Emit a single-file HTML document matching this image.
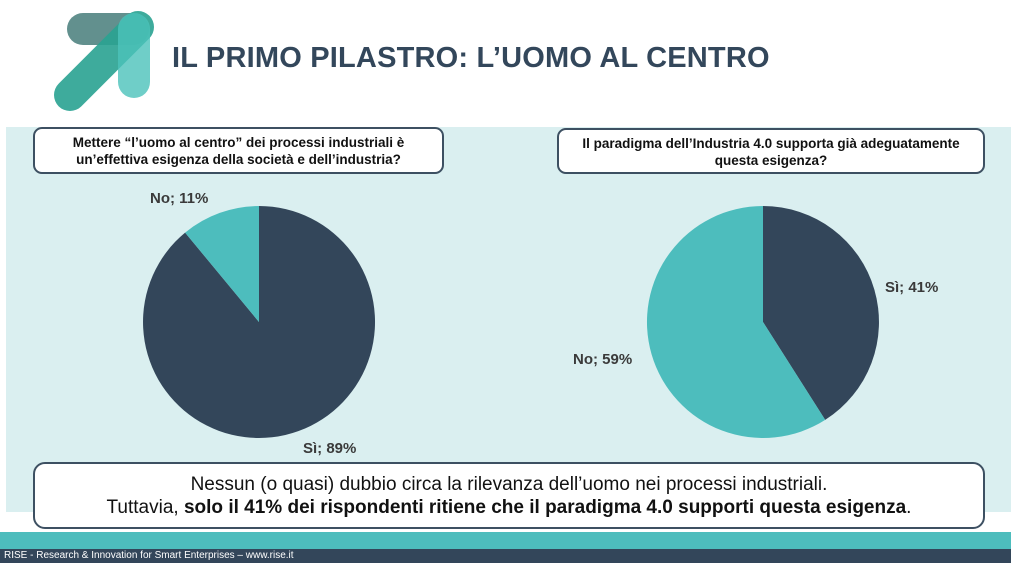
<!DOCTYPE html>
<html><head><meta charset="utf-8"><style>
body{margin:0;width:1024px;height:565px;background:#fff;position:relative;overflow:hidden;font-family:"Liberation Sans",sans-serif}
.a{position:absolute}
.box{position:absolute;background:#fff;border:2px solid #3d5062;border-radius:9px;box-sizing:border-box;text-align:center;font-weight:bold;color:#111;font-size:13.5px;line-height:17px}
</style></head><body>
<svg class="a" style="left:0;top:0" width="160" height="115">
<g stroke-linecap="round">
<line x1="83" y1="29" x2="133" y2="29" stroke="#3b7572" stroke-width="32" opacity=".8"/>
<line x1="70" y1="95" x2="138" y2="27" stroke="#2aa392" stroke-width="32" opacity=".9"/>
<line x1="134" y1="29" x2="134" y2="82" stroke="#4cc3bb" stroke-width="32" opacity=".8"/>
</g></svg>
<div class="a" style="left:172px;top:42px;font-size:29px;font-weight:bold;color:#33475b;letter-spacing:0.2px">IL PRIMO PILASTRO: L’UOMO AL CENTRO</div>
<div class="a" style="left:6px;top:127px;width:1005px;height:385px;background:#daeff0"></div>
<div class="box" style="left:33px;top:127px;width:411px;height:47px;padding-top:5px">Mettere “l’uomo al centro” dei processi industriali è<br>un’effettiva esigenza della società e dell’industria?</div>
<div class="box" style="left:557px;top:128px;width:428px;height:46px;padding-top:5px">Il paradigma dell’Industria 4.0 supporta già adeguatamente<br>questa esigenza?</div>
<svg class="a" style="left:0;top:0" width="1024" height="565">
<path d="M259,322 L259,206 A116,116 0 1,1 185.1,232.6 Z" fill="#33465a"/>
<path d="M259,322 L185.1,232.6 A116,116 0 0,1 259,206 Z" fill="#4dbdbd"/>
<path d="M763,322 L763,206 A116,116 0 0,1 825.2,419.9 Z" fill="#33465a"/>
<path d="M763,322 L825.2,419.9 A116,116 0 1,1 763,206 Z" fill="#4dbdbd"/>
<g font-family="Liberation Sans,sans-serif" font-weight="bold" font-size="15" fill="#3a3a3a">
<text x="150" y="203">No; 11%</text>
<text x="303" y="453">Sì; 89%</text>
<text x="885" y="292">Sì; 41%</text>
<text x="573" y="364">No; 59%</text>
</g></svg>
<div class="box" style="left:33px;top:462px;width:952px;height:67px;font-weight:normal;font-size:19px;line-height:23px;padding-top:9px;border-radius:12px">Nessun (o quasi) dubbio circa la rilevanza dell’uomo nei processi industriali.<br>Tuttavia, <b>solo il 41% dei rispondenti ritiene che il paradigma 4.0 supporti questa esigenza</b>.</div>
<div class="a" style="left:0;top:532px;width:1011px;height:17px;background:#4dbdbd"></div>
<div class="a" style="left:0;top:549px;width:1011px;height:14px;background:#33465a;color:#fff;font-size:10px;line-height:14px;padding-left:4px;box-sizing:border-box">RISE - Research &amp; Innovation for Smart Enterprises – www.rise.it</div>
</body></html>
